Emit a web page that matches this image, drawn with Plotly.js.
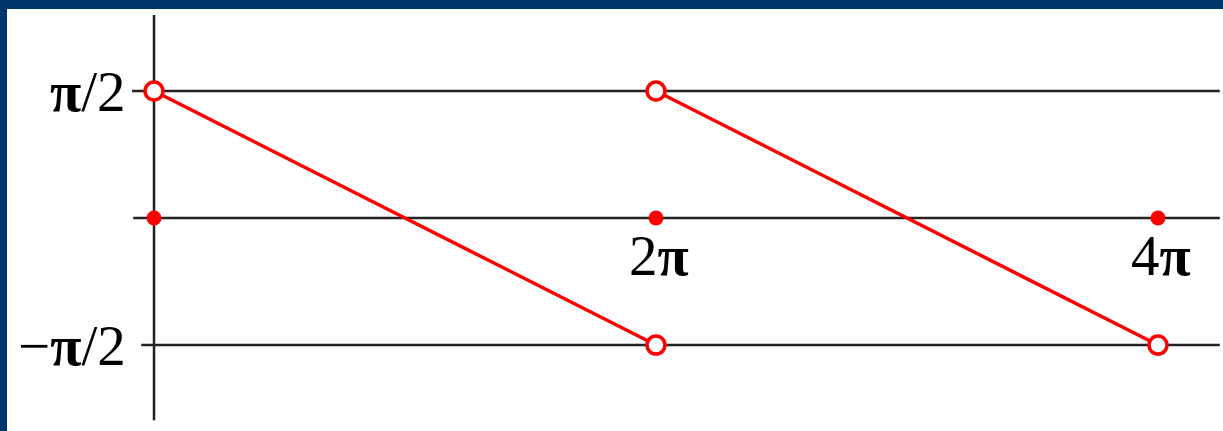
<!DOCTYPE html>
<html>
<head>
<meta charset="utf-8">
<script src="https://cdn.plot.ly/plotly-3.0.1.min.js"></script>
<style>
  html, body { margin: 0; padding: 0; background: #00356b; }
</style>
</head>
<body>
<div id="plot"></div>
<script>
var PI = Math.PI;

// the two falling pieces of the sawtooth
var segX = [[0, 2 * PI], [2 * PI, 4 * PI]];
var segY = [[PI / 2, -PI / 2], [PI / 2, -PI / 2]];

// open ends (excluded points)
var openX = [0, 2 * PI, 2 * PI, 4 * PI];
var openY = [PI / 2, -PI / 2, PI / 2, -PI / 2];

// filled points where the function is 0
var dotX = [0, 2 * PI, 4 * PI];
var dotY = [0, 0, 0];

// horizontal reference levels and their labels
var levels = [PI / 2, 0, -PI / 2];
var yLabels = ["<b>π</b>/2", "", "−<b>π</b>/2"];
var xLabelVals = [2 * PI, 4 * PI];
var xLabels = ["2<b>π</b>", "4<b>π</b>"];

var red = "#ff0000";
var ink = "#222222";
var font = {family: "Liberation Serif, Times New Roman, serif", size: 57, color: "#000"};

var xr = [-1.84, 13.38];
var yr = [-2.634, 2.585];

var traces = [];
for (var i = 0; i < segX.length; i++) {
  traces.push({
    x: segX[i], y: segY[i], mode: "lines", type: "scatter",
    line: {color: red, width: 3.5}, hoverinfo: "skip"
  });
}
traces.push({
  x: dotX, y: dotY, mode: "markers", type: "scatter",
  marker: {color: red, size: 15}, hoverinfo: "skip"
});
traces.push({
  x: openX, y: openY, mode: "markers", type: "scatter",
  marker: {color: "#fff", size: 18, line: {color: red, width: 3.5}}, hoverinfo: "skip"
});

var lineStart = [-0.275, -0.26, -0.16];
var shapes = [];
levels.forEach(function (lv, k) {
  shapes.push({
    type: "line", xref: "x", yref: "y", layer: "below",
    x0: lineStart[k], x1: 13.34, y0: lv, y1: lv,
    line: {color: ink, width: 2.5}
  });
});
// vertical axis
shapes.push({
  type: "line", xref: "x", yref: "y", layer: "below",
  x0: 0, x1: 0, y0: 2.51, y1: -2.50,
  line: {color: ink, width: 2.5}
});

var annotations = [];
levels.forEach(function (lv, k) {
  if (!yLabels[k]) return;
  annotations.push({
    x: -0.32, y: lv, xref: "x", yref: "y", text: yLabels[k],
    showarrow: false, xanchor: "right", yanchor: "middle", font: font
  });
});
xLabelVals.forEach(function (v, k) {
  annotations.push({
    x: v + 0.04, y: -0.46, xref: "x", yref: "y", text: xLabels[k],
    showarrow: false, xanchor: "center", yanchor: "middle", font: font
  });
});

var layout = {
  width: 1223, height: 431,
  margin: {l: 7, r: 0, t: 9, b: 0},
  paper_bgcolor: "#00356b",
  plot_bgcolor: "#ffffff",
  showlegend: false,
  xaxis: {range: xr, visible: false, fixedrange: true},
  yaxis: {range: yr, visible: false, fixedrange: true},
  shapes: shapes,
  annotations: annotations
};

Plotly.newPlot("plot", traces, layout, {displayModeBar: false, staticPlot: true});
</script>
</body>
</html>
